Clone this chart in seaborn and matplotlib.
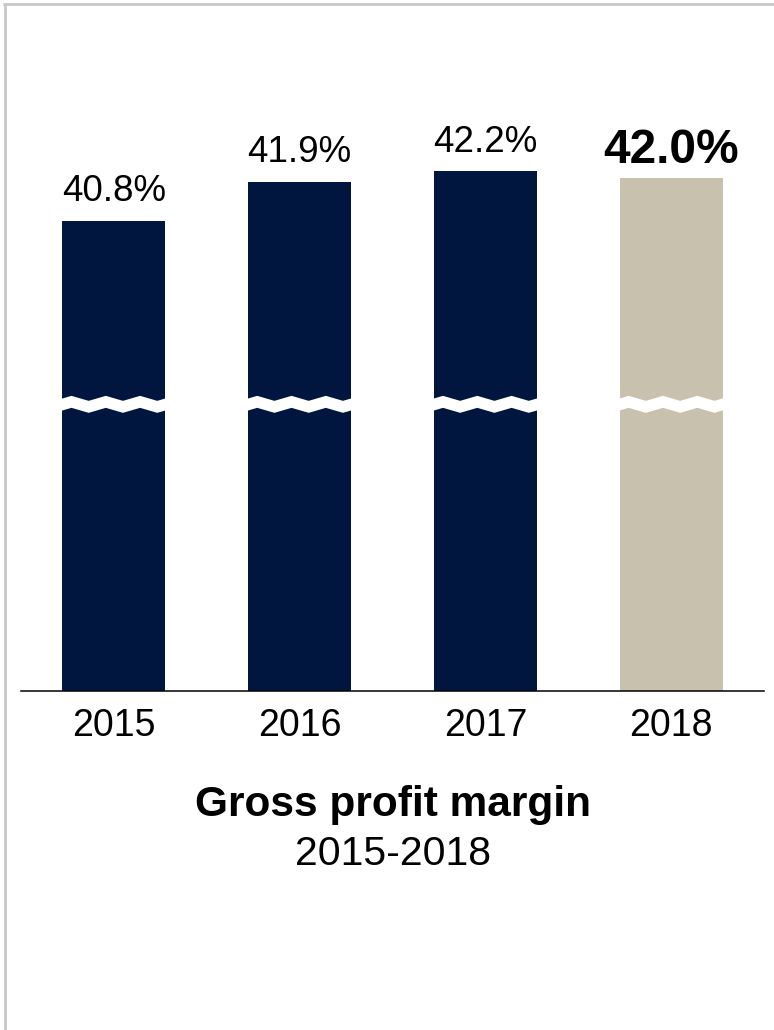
import matplotlib
matplotlib.use("Agg")
import matplotlib.pyplot as plt
from matplotlib.lines import Line2D
import numpy as np
import pandas as pd
import seaborn as sns

# Data
years = ["2015", "2016", "2017", "2018"]
margins = [40.8, 41.9, 42.2, 42.0]
labels = ["40.8%", "41.9%", "42.2%", "42.0%"]
bar_colors = ["#00163F", "#00163F", "#00163F", "#C8C1AD"]
title_text = "Gross profit margin"
subtitle_text = "2015-2018"

sns.set_style("white")
plt.rcParams["font.family"] = ["Liberation Sans", "DejaVu Sans"]

W, H = 774, 1030
fig = plt.figure(figsize=(W / 100, H / 100), dpi=100)

# axes geometry in pixels (from top-left)
ax_left, ax_right = 21, 764
ax_top, ax_bottom = 100, 691
ax = fig.add_axes([ax_left / W, (H - ax_bottom) / H,
                   (ax_right - ax_left) / W, (ax_bottom - ax_top) / H])

df = pd.DataFrame({"year": years, "margin": margins})
sns.barplot(data=df, x="year", y="margin", hue="year", palette=bar_colors,
            saturation=1, width=0.554, linewidth=0, legend=False, ax=ax)

ymin, ymax = 27.55, 44.2
ax.set_xlim(-0.5, 3.5)
ax.set_ylim(ymin, ymax)

# axis styling: only a baseline
for side in ["left", "right", "top"]:
    ax.spines[side].set_visible(False)
ax.spines["bottom"].set_color("black")
ax.spines["bottom"].set_linewidth(1.1)
ax.set_yticks([])
ax.set_xlabel("")
ax.set_ylabel("")
ax.tick_params(axis="x", length=0, pad=12, labelsize=27, colors="black")

# value labels
for i, (v, lab) in enumerate(zip(margins, labels)):
    if i == len(margins) - 1:
        ax.annotate(lab, (i, v), xytext=(0, 11), textcoords="offset points",
                    ha="center", va="baseline", fontsize=34.5, fontweight="bold",
                    color="black")
    else:
        ax.annotate(lab, (i, v), xytext=(0, 14), textcoords="offset points",
                    ha="center", va="baseline", fontsize=26.5, color="black")

# axis-break zigzag bands across each bar
px_per_unit_y = (ax_bottom - ax_top) / (ymax - ymin)
px_per_unit_x = (ax_right - ax_left) / 4.0
band_center = 35.64
half_thick = 6.0 / px_per_unit_y
amp = 2.5 / px_per_unit_y
bw = 0.554
period = bw / 3.0
for i in range(len(years)):
    x0 = i - bw / 2 - 2 / px_per_unit_x
    x1 = i + bw / 2 + 2 / px_per_unit_x
    xs = np.linspace(x0, x1, 400)
    phase = (xs - (i - bw / 2)) / period
    # triangle wave starting at mid level going downward
    tri = 2 * np.abs(((phase + 0.25) % 1.0) - 0.5) * 2 - 1  # range -1..1
    zig = -tri * amp
    upper = band_center + half_thick + zig
    lower = band_center - half_thick + zig
    ax.fill_between(xs, lower, upper, color="white", linewidth=0, zorder=5)

# titles
cx = (ax_left + ax_right) / 2 / W
fig.text(cx, (H - 816) / H, title_text, ha="center", va="baseline",
         fontsize=30.5, fontweight="bold", color="black")
fig.text(cx, (H - 865) / H, subtitle_text, ha="center", va="baseline",
         fontsize=29.5, color="black")

# light frame on top and left edges
frame_color = "#C8C8C8"
fig.add_artist(Line2D([4 / W, 1.0], [(H - 4) / H, (H - 4) / H],
                      transform=fig.transFigure, color=frame_color, linewidth=2))
fig.add_artist(Line2D([5 / W, 5 / W], [0, (H - 4) / H],
                      transform=fig.transFigure, color=frame_color, linewidth=2))

fig.savefig("out.png", dpi=100)
